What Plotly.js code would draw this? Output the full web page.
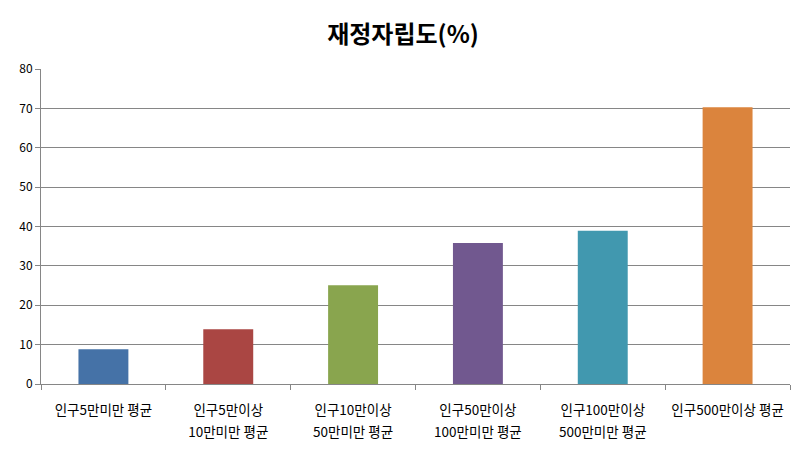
<!DOCTYPE html>
<html><head><meta charset="utf-8">
<script src="https://cdn.plot.ly/plotly-3.0.1.min.js"></script>
<style>html,body{margin:0;padding:0;background:#fff}#c{width:806px;height:459px}</style>
</head><body><div id="c"></div>
<script>
const categories = ['c1','c2','c3','c4','c5','c6'];
const labelLine1 = ['인구5만미만 평균','인구5만이상','인구10만이상','인구50만이상','인구100만이상','인구500만이상 평균'];
const labelLine2 = ['','10만미만 평균','50만미만 평균','100만미만 평균','500만미만 평균',''];
const values = [8.8, 13.9, 25.1, 35.8, 38.9, 70.3];
const colors = ['#4572A7','#AA4643','#89A54E','#71588F','#4198AF','#DB843D'];
const yTicks = [0,10,20,30,40,50,60,70,80];

const font = 'Malgun Gothic, "Noto Sans CJK KR", sans-serif';
const idx = categories.map((_, i) => i);

Plotly.newPlot('c', [{
  type: 'bar', x: idx, y: values,
  marker: {color: colors, line: {width: 0}},
  width: 0.4, hoverinfo: 'none'
}, {
  type: 'scatter', x: idx, y: values, xaxis: 'x2', yaxis: 'y',
  mode: 'markers', marker: {opacity: 0, size: 1}, hoverinfo: 'none'
}], {
  width: 806, height: 459,
  margin: {l: 41, r: 16, t: 69, b: 75},
  paper_bgcolor: '#fff', plot_bgcolor: '#fff',
  font: {family: font, color: '#000', size: 12},
  title: {text: '<b>재정자립도(%)</b>', x: 0.5, xanchor: 'center', y: 0.925, yanchor: 'middle',
          font: {family: font, size: 24, color: '#000'}},
  showlegend: false,
  xaxis: {
    range: [-0.5, 5.5], tickvals: idx, ticktext: labelLine1,
    ticks: '', showgrid: false, zeroline: false,
    showline: true, linecolor: '#868686', linewidth: 1,
    ticklabelstandoff: 14,
    tickfont: {family: font, size: 13.5, color: '#000'},
    minor: {tick0: 0.5, dtick: 1, ticks: 'outside', ticklen: 5, tickcolor: '#868686', showgrid: false}
  },
  xaxis2: {
    overlaying: 'x', side: 'bottom', anchor: 'y',
    range: [-0.5, 5.5], tickvals: idx, ticktext: labelLine2,
    ticks: '', showgrid: false, zeroline: false, showline: false,
    ticklabelstandoff: 38,
    tickfont: {family: font, size: 13.5, color: '#000'}
  },
  yaxis: {
    range: [0, 80], tickvals: yTicks, ticks: 'outside', ticklen: 5, tickcolor: '#868686',
    showline: true, linecolor: '#868686', linewidth: 1,
    showgrid: true, gridcolor: '#868686', gridwidth: 1, zeroline: false,
    tickfont: {family: font, size: 12, color: '#000'}
  }
}, {staticPlot: true});
</script></body></html>
